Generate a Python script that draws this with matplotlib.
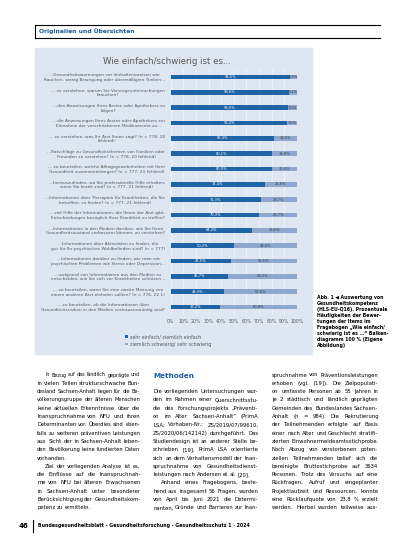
import matplotlib
matplotlib.use("Agg")
import matplotlib.pyplot as plt
import matplotlib.patches as mpatches
from matplotlib import font_manager
import numpy as np

W, H = 413, 550

# data
items = [
    "...Gesundheitswarnungen vor Verhaltensweisen wie\nRauchen, wenig Bewegung oder übermäßigem Trinken...",
    "... zu verstehen, warum Sie Vorsorgeuntersuchungen\nbrauchen?",
    "...den Anweisungen Ihres Arztes oder Apothekers zu\nfolgen?",
    "...die Anweisungen Ihres Arztes oder Apothekers zur\nEinnahme der verschriebenen Medikamente zu...",
    "... zu verstehen, was Ihr Arzt Ihnen sagt? (n = 778, 20\nfehlend)",
    "...Ratschläge zu Gesundheitsthemen von Familien oder\nFreunden zu verstehen? (n = 778, 20 fehlend)",
    "... zu beurteilen, welche Alltagsgewohnheiten mit Ihrer\nGesundheit zusammenhängen? (n = 777, 21 fehlend)",
    "...herauszufinden, wo Sie professionelle Hilfe erhalten,\nwenn Sie krank sind? (n = 777, 21 fehlend)",
    "...Informationen über Therapien für Krankheiten, die Sie\nbetreffen, zu finden? (n = 777, 21 fehlend)",
    "...mit Hilfe der Informationen, die Ihnen der Arzt gibt,\nEntscheidungen bezüglich Ihrer Krankheit zu treffen?",
    "...Informationen in den Medien darüber, wie Sie Ihren\nGesundheitszustand verbessern können, zu verstehen?",
    "...Informationen über Aktivitäten zu finden, die\ngut für Ihr psychisches Wohlbefinden sind? (n = 777)",
    "...Informationen darüber zu finden, wie man mit\npsychischen Problemen wie Stress oder Depression...",
    "...aufgrund von Informationen aus den Medien zu\nentscheiden, wie Sie sich vor Krankheiten schützen...",
    "... zu beurteilen, wann Sie eine zweite Meinung von\neinem anderen Arzt einholen sollten? (n = 776, 22 f.)",
    "... zu beurteilen, ob die Informationen über\nGesundheitsrisiken in den Medien vertrauenswürdig sind?",
]
easy = [94.5, 93.6, 93.0, 92.4, 81.4, 80.1, 80.0, 74.4, 71.3, 70.3,
        64.4, 50.2, 47.5, 45.7, 42.4, 39.2]
hard = [5.5, 6.4, 7.0, 7.6, 18.6, 19.9, 20.0, 25.6, 28.7, 29.7,
        35.6, 49.8, 52.5, 54.3, 57.6, 60.8]
legend_labels = ["sehr einfach/ ziemlich einfach", "ziemlich schwierig/ sehr schwierig"]

# body text: ">" marks an indented first line, "|" a paragraph end
col1 = [
    ">In Bezug auf das ländlich geprägte und",
    "in vielen Teilen strukturschwache Bun-",
    "desland Sachsen-Anhalt liegen für die Be-",
    "völkerungsgruppe der älteren Menschen",
    "keine aktuellen Erkenntnisse über die",
    "Inanspruchnahme von NFU und ihren",
    "Determinanten vor. Überdies sind eben-",
    "falls zu weiteren präventiven Leistungen",
    "aus Sicht der in Sachsen-Anhalt leben-",
    "den Bevölkerung keine fundierten Daten",
    "|vorhanden.",
    ">Ziel der vorliegenden Analyse ist es,",
    "die Einflüsse auf die Inanspruchnah-",
    "me von NFU bei älteren Erwachsenen",
    "in Sachsen-Anhalt unter besonderer",
    "Berücksichtigung der Gesundheitskom-",
    "|petenz zu ermitteln.",
]
col2 = [
    "|",
    "|",
    "Die vorliegenden Untersuchungen wur-",
    "den im Rahmen einer Querschnittsstu-",
    "die des Forschungsprojekts „Präventi-",
    "on im Alter Sachsen-Anhalt“ (PrimA",
    "LSA; Vorhaben-Nr.: ZS/2019/07/99610,",
    "ZS/2020/06/142142) durchgeführt. Das",
    "Studiendesign ist an anderer Stelle be-",
    "schrieben [19]. PrimA LSA orientierte",
    "sich an dem Verhaltensmodell der Inan-",
    "spruchnahme von Gesundheitsdienst-",
    "|leistungen nach Andersen et al. [20].",
    ">Anhand eines Fragebogens, beste-",
    "hend aus insgesamt 56 Fragen, wurden",
    "von April bis Juni 2021 die Determi-",
    "nanten, Gründe und Barrieren zur Inan-",
]
col3 = [
    "spruchnahme von Präventionsleistungen",
    "erhoben (vgl. [19]). Die Zielpopulati-",
    "on umfasste Personen ab 55 Jahren in",
    "je 2 städtisch und ländlich geprägten",
    "Gemeinden des Bundeslandes Sachsen-",
    "Anhalt (n = 984). Die Rekrutierung",
    "der Teilnehmenden erfolgte auf Basis",
    "einer nach Alter und Geschlecht stratifi-",
    "zierten Einwohnermeldeamtsstichprobe.",
    "Nach Abzug von verstorbenen poten-",
    "ziellen Teilnehmenden belief sich die",
    "bereinigte Bruttostichprobe auf 3634",
    "Personen. Trotz des Versuchs auf eine",
    "Rückfragen, Aufruf und eingeplanter",
    "Projektlaufzeit und Ressourcen, konnte",
    "eine Rücklaufquote von 23,8 % erzielt",
    "werden. Hierbei wurden teilweise aus-",
]
caption = ("Abb. 1 ◀ Auswertung von\nGesundheitskompetenz\n(HLS-EU-Q16). Prozentuale\n"
           "Häufigkeiten der Bewer-\ntungen der Items im\nFragebogen „Wie einfach/\n"
           "schwierig ist es …“ Balken-\ndiagramm 100 % (Eigene\nAbbildung)")

DARK = "#1f64a5"
LIGHT = "#8ea7d0"
PANEL = "#dde6f1"
BLUE_TXT = "#1b5c9e"

# pick the narrowest usable face for the body text
fonts = font_manager.fontManager.ttflist
names = {f.name for f in fonts}
BODY_STRETCH = "normal"
if "Liberation Sans Narrow" in names:
    BODY_FONT = "Liberation Sans Narrow"
elif any(f.name == "DejaVu Sans" and f.stretch == "condensed" for f in fonts):
    BODY_FONT, BODY_STRETCH = "DejaVu Sans", "condensed"
elif "Roboto" in names:
    BODY_FONT = "Roboto"
else:
    BODY_FONT = "DejaVu Sans"

BIG = 40.0  # measure at a large size, hinting skews tiny sizes


def fx(x):
    return x / W


def fy(y):
    return 1 - y / H


def body_text(fig, x, y, s, size):
    return fig.text(fx(x), fy(y), s, fontsize=size, va="center", ha="left",
                    color="black", family=[BODY_FONT, "DejaVu Sans"],
                    fontstretch=BODY_STRETCH)


def text_width(fig, renderer, s, size):
    t = body_text(fig, 0, 0, s, BIG)
    ww = t.get_window_extent(renderer).width
    t.remove()
    return ww * size / BIG


def justify(fig, renderer, lines, x0, x1, y0, dy, size):
    # lay out each line word by word so it fills the column;
    # a line that is too long at the base size gets a slightly smaller size
    for i, raw in enumerate(lines):
        last = raw.startswith("|")
        indent = raw.startswith(">")
        line = raw.lstrip("|>")
        if not line:
            continue
        xs = x0 + (8 if indent else 0)
        s = size
        natural = text_width(fig, renderer, line, s)
        if natural > (x1 - xs):
            s = s * (x1 - xs) / natural
        words = line.split()
        widths = [text_width(fig, renderer, w, s) for w in words]
        space = text_width(fig, renderer, "a a", s) - text_width(fig, renderer, "aa", s)
        if not last and len(words) > 1:
            space = max(0.5, (x1 - xs - sum(widths)) / (len(words) - 1))
        cur = xs
        for w, ww in zip(words, widths):
            body_text(fig, cur, y0 + i * dy, w, s)
            cur += ww + space


plt.rcParams["font.family"] = ["DejaVu Sans"]
fig = plt.figure(figsize=(W / 100, H / 100), dpi=100)
renderer = fig.canvas.get_renderer()

# header box
fig.add_artist(plt.Line2D([fx(35), fx(380)], [fy(25), fy(25)], color="black", lw=0.8))
fig.add_artist(plt.Line2D([fx(35), fx(380)], [fy(37.5), fy(37.5)], color="black", lw=0.8))
fig.add_artist(plt.Line2D([fx(35), fx(35)], [fy(25), fy(37.5)], color="black", lw=0.8))
fig.text(fx(39), fy(31.5), "Originalien und Übersichten", color=BLUE_TXT,
         fontsize=4.3, fontweight="bold", va="center")

# chart panel
fig.add_artist(mpatches.Rectangle((fx(35), fy(354)), fx(312) - fx(35), fy(48) - fy(354),
                                  transform=fig.transFigure, color=PANEL, zorder=0))
fig.text(fx(167), fy(61), "Wie einfach/schwierig ist es...", color="#595959",
         fontsize=6.2, ha="center", va="center")

ax = fig.add_axes([fx(170.7), fy(314.6), fx(297) - fx(170.7), fy(69.3) - fy(314.6)])
ax.set_facecolor(PANEL)
y = np.arange(len(items))
b1 = ax.barh(y, easy, height=0.3, color=DARK, zorder=2)
b2 = ax.barh(y, hard, left=easy, height=0.3, color=LIGHT, zorder=2)
for yi, e, h in zip(y, easy, hard):
    ax.text(e / 2, yi, f"{e:.1f}%".replace(".", ","), color="white",
            fontsize=2.6, ha="center", va="center", zorder=3)
    ax.text(e + h / 2, yi, f"{h:.1f}%".replace(".", ","), color="#404040",
            fontsize=2.6, ha="center", va="center", zorder=3)
ax.set_xlim(0, 100)
ax.set_ylim(len(items) - 0.5, -0.5)
ax.set_xticks(np.arange(0, 101, 10))
ax.set_xticklabels([f"{t}%" for t in range(0, 101, 10)])
ax.set_yticks(y)
ax.set_yticklabels(items)
ax.tick_params(length=0, labelsize=3.1, labelcolor="#595959")
ax.tick_params(axis="x", pad=3.5, labelsize=3.3)
ax.tick_params(axis="y", pad=4)
for lab in ax.get_yticklabels():
    lab.set_multialignment("center")
ax.grid(axis="x", color="#f4f7fb", lw=0.5, zorder=1)
for s in ax.spines.values():
    s.set_visible(False)

fig.legend([b1, b2], legend_labels, loc="upper left",
           bbox_to_anchor=(fx(123), fy(332)), frameon=False, fontsize=3.4,
           handlelength=0.5, handleheight=0.5, handletextpad=0.4,
           labelspacing=0.5, borderpad=0, labelcolor="#595959")

fig.text(fx(317), fy(295), caption, fontsize=3.3, va="top", ha="left",
         linespacing=1.25, fontweight="bold")

# body text columns: base size so a typical line fills its column
full = [l.lstrip("|>") for l in col1 + col2 + col3 if l.lstrip("|>") and not l.startswith("|")]
med = np.median([text_width(fig, renderer, l, 4.0) for l in full])
size = min(4.8, 4.0 * 100 / med)
line_h = 8.3
justify(fig, renderer, col1, 37, 140, 375, line_h, size)
justify(fig, renderer, col2, 153, 258, 375, line_h, size)
justify(fig, renderer, col3, 272, 378, 375, line_h, size)
fig.text(fx(153), fy(376), "Methoden", color=BLUE_TXT, fontsize=5.2,
         fontweight="bold", va="center")

# footer
fig.text(fx(28), fy(526), "46", fontsize=5, fontweight="bold", va="center", ha="right")
fig.add_artist(plt.Line2D([fx(33), fx(33)], [fy(520), fy(532)], color="black", lw=0.8))
fig.text(fx(38), fy(526), "Bundesgesundheitsblatt - Gesundheitsforschung - Gesundheitsschutz 1 · 2024",
         fontsize=3.4, fontweight="bold", va="center", ha="left")

fig.savefig("out.png", dpi=100)
